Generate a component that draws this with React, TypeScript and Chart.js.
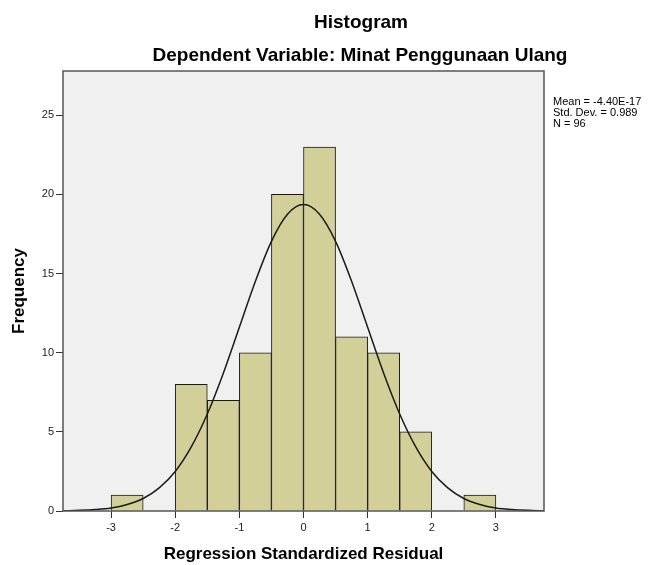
import React, { useEffect, useRef } from 'react';
import { Chart, registerables } from 'chart.js';

Chart.register(...registerables);

// Histogram bins (centre of each 0.5-wide bin) and frequencies
const binCenters = [-2.75, -2.25, -1.75, -1.25, -0.75, -0.25, 0.25, 0.75, 1.25, 1.75, 2.25, 2.75];
const frequencies = [1, 0, 8, 7, 10, 20, 23, 11, 10, 5, 0, 1];

// Normal curve
const curveX = [-3.75, -3.5, -3.25, -3, -2.75, -2.5, -2.25, -2, -1.75, -1.5, -1.25, -1, -0.75, -0.5, -0.25, 0,
  0.25, 0.5, 0.75, 1, 1.25, 1.5, 1.75, 2, 2.25, 2.5, 2.75, 3, 3.25, 3.5, 3.75];
const curveY = [0.015, 0.04, 0.09, 0.19, 0.41, 0.79, 1.46, 2.5, 4.05, 6.13, 8.71, 11.61, 14.52, 17.04, 18.75, 19.36,
  18.75, 17.04, 14.52, 11.61, 8.71, 6.13, 4.05, 2.5, 1.46, 0.79, 0.41, 0.19, 0.09, 0.04, 0.015];

const xTicks = [-3, -2, -1, 0, 1, 2, 3];
const yTicks = [0, 5, 10, 15, 20, 25];
const xRange = [-3.75, 3.75];
const yRange = [0, 27.8];

const titleText = 'Histogram';
const subtitleText = 'Dependent Variable: Minat Penggunaan Ulang';
const statsLines = ['Mean = -4.40E-17', 'Std. Dev. = 0.989', 'N = 96'];
const xTitle = 'Regression Standardized Residual';
const yTitle = 'Frequency';

const FONT = "'Liberation Sans', Arial, sans-serif";

const decorPlugin = {
  id: 'decor',
  beforeDraw(chart: any) {
    const { ctx, chartArea: a } = chart;
    ctx.save();
    ctx.fillStyle = '#ffffff';
    ctx.fillRect(0, 0, chart.width, chart.height);
    ctx.fillStyle = '#f0f0f0';
    ctx.fillRect(a.left, a.top, a.right - a.left, a.bottom - a.top);
    ctx.restore();
  },
  afterDatasetsDraw(chart: any) {
    const { ctx, chartArea: a } = chart;
    ctx.save();
    ctx.strokeStyle = '#555555';
    ctx.lineWidth = 1.5;
    ctx.strokeRect(a.left, a.top, a.right - a.left, a.bottom - a.top);
    ctx.restore();
  },
  afterDraw(chart: any) {
    const { ctx, chartArea: a } = chart;
    ctx.save();
    ctx.fillStyle = '#000000';
    ctx.textAlign = 'center';
    ctx.textBaseline = 'alphabetic';
    ctx.font = `bold 19px ${FONT}`;
    ctx.fillText(titleText, 361, 28);
    ctx.fillText(subtitleText, 360, 60.5);
    ctx.font = `11px ${FONT}`;
    ctx.textAlign = 'left';
    ctx.textBaseline = 'middle';
    statsLines.forEach((s, i) => ctx.fillText(s, a.right + 9, 102 + i * 11));
    ctx.restore();
  },
};

export default function App() {
  const ref = useRef<HTMLCanvasElement>(null);
  useEffect(() => {
    if (!ref.current) return;
    const bars = binCenters
      .map((x, i) => ({ x, y: frequencies[i] }))
      .filter((d) => d.y > 0);
    const curve = curveX.map((x, i) => ({ x, y: curveY[i] }));
    const chart = new Chart(ref.current, {
      type: 'bar',
      data: {
        datasets: [
          {
            type: 'line',
            data: curve,
            borderColor: '#1a1a1a',
            borderWidth: 1.5,
            pointRadius: 0,
            cubicInterpolationMode: 'monotone',
            fill: false,
            order: 0,
          } as any,
          {
            type: 'bar',
            data: bars,
            backgroundColor: '#d3cf98',
            borderColor: '#1a1a1a',
            borderWidth: 1,
            borderSkipped: 'start',
            barPercentage: 1,
            categoryPercentage: 1,
            order: 1,
          } as any,
        ],
      },
      options: {
        animation: false,
        responsive: false,
        layout: { padding: { top: 71, right: 110, left: 0, bottom: 0 } },
        plugins: { legend: { display: false }, tooltip: { enabled: false }, title: { display: false } },
        scales: {
          x: {
            type: 'linear',
            offset: false,
            min: xRange[0],
            max: xRange[1],
            afterBuildTicks: (s: any) => { s.ticks = xTicks.map((v) => ({ value: v })); },
            afterFit: (s: any) => { s.height = 54; },
            ticks: { font: { family: FONT, size: 11 }, color: '#222', padding: 3, maxRotation: 0 },
            grid: { offset: false, drawOnChartArea: false, drawTicks: true, tickLength: 7, color: '#333', lineWidth: 1 },
            border: { display: false },
            title: { display: true, text: xTitle, font: { family: FONT, size: 17, weight: 'bold' }, color: '#000', padding: 0 },
          },
          y: {
            type: 'linear',
            min: yRange[0],
            max: yRange[1],
            afterBuildTicks: (s: any) => { s.ticks = yTicks.map((v) => ({ value: v })); },
            afterFit: (s: any) => { s.width = 63; },
            ticks: { font: { family: FONT, size: 11 }, color: '#222', padding: 2 },
            grid: { drawOnChartArea: false, drawTicks: true, tickLength: 7, color: '#333', lineWidth: 1 },
            border: { display: false },
            title: { display: true, text: yTitle, font: { family: FONT, size: 17, weight: 'bold' }, color: '#000', padding: 9 },
          },
        },
      } as any,
      plugins: [decorPlugin],
    });
    return () => chart.destroy();
  }, []);
  return (
    <div style={{ position: 'fixed', left: 0, top: 0, width: 654, height: 565 }}>
      <canvas ref={ref} width={654} height={565} />
    </div>
  );
}
